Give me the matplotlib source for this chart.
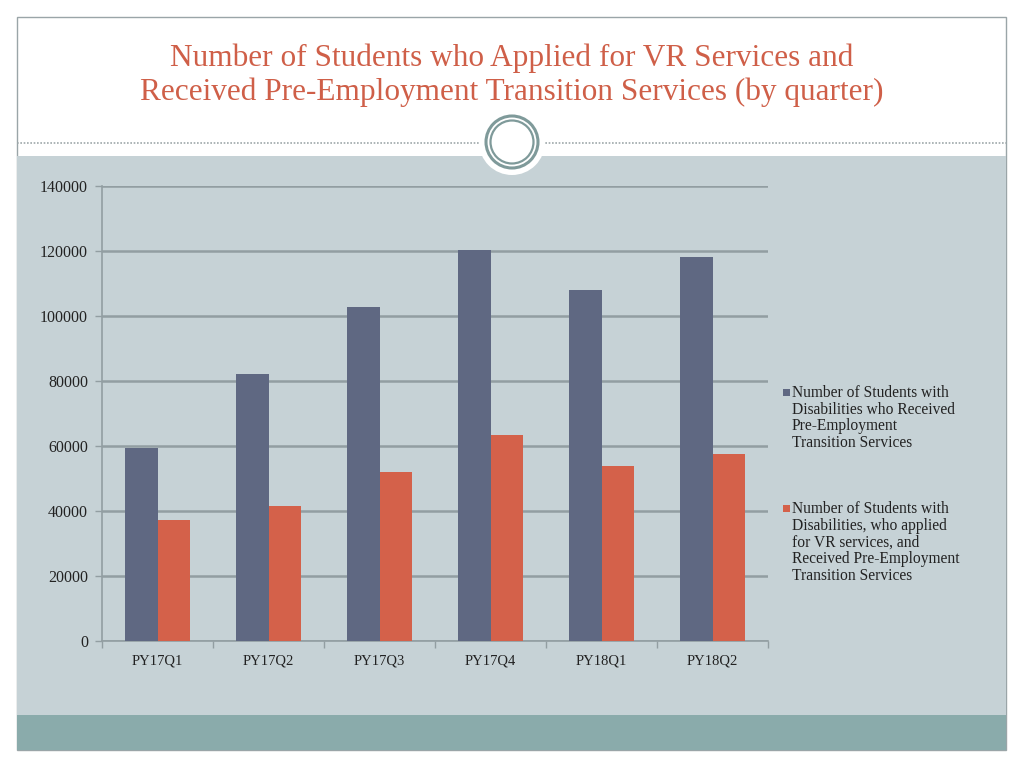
import matplotlib
matplotlib.use("Agg")
import matplotlib.pyplot as plt
from matplotlib.patches import Rectangle, Circle
import numpy as np

categories = ["PY17Q1", "PY17Q2", "PY17Q3", "PY17Q4", "PY18Q1", "PY18Q2"]
received = [59400, 82200, 102800, 120300, 108000, 118100]
applied = [37200, 41500, 52000, 63400, 53800, 57500]
series_names = [
    "Number of Students with\nDisabilities who Received\nPre-Employment\nTransition Services",
    "Number of Students with\nDisabilities, who applied\nfor VR services, and\nReceived Pre-Employment\nTransition Services",
]
yticks = [0, 20000, 40000, 60000, 80000, 100000, 120000, 140000]
title = "Number of Students who Applied for VR Services and\nReceived Pre-Employment Transition Services (by quarter)"

W, H = 1024, 768
fig = plt.figure(figsize=(W / 100, H / 100), dpi=100)
fig.patch.set_facecolor("white")

def fx(x):
    return x / W

def fy(y):
    return 1 - y / H

serif = ["Liberation Serif", "DejaVu Serif"]

# slide background parts
fig.patches.append(Rectangle((fx(17), fy(750)), fx(989), 733 / H, transform=fig.transFigure,
                             facecolor="white", edgecolor="#9aa5a8", lw=1.0, zorder=0))
fig.patches.append(Rectangle((fx(17), fy(715)), fx(989), (715 - 156) / H, transform=fig.transFigure,
                             facecolor="#c6d2d6", edgecolor="none", zorder=0))
fig.patches.append(Rectangle((fx(17), fy(750)), fx(989), 35 / H, transform=fig.transFigure,
                             facecolor="#8aabab", edgecolor="none", zorder=0))

# dashed separator line
fig.add_artist(plt.Line2D([fx(17), fx(484)], [fy(143), fy(143)], transform=fig.transFigure,
                          color="#9ea8aa", lw=1.2, ls=(0, (1, 1)), zorder=1))
fig.add_artist(plt.Line2D([fx(542), fx(1006)], [fy(143), fy(143)], transform=fig.transFigure,
                          color="#9ea8aa", lw=1.2, ls=(0, (1, 1)), zorder=1))

# circle ornament
oax = fig.add_axes([0, 0, 1, 1], zorder=1)
oax.set_xlim(0, W)
oax.set_ylim(H, 0)
oax.axis("off")
oax.add_patch(Circle((512, 142), 33, facecolor="white", edgecolor="none"))
oax.add_patch(Circle((512, 142), 26, facecolor="none", edgecolor="#7f9a9a", lw=2.2))
oax.add_patch(Circle((512, 142), 21.5, facecolor="white", edgecolor="#7f9a9a", lw=1.6))

# title
fig.text(0.5, fy(75), title, ha="center", va="center", fontsize=22.5, color="#cf5f48",
         family=serif, linespacing=1.2, zorder=3)

# chart axes
ax = fig.add_axes([fx(102), fy(641), fx(666), 455 / H], zorder=2)
ax.patch.set_alpha(0)
x = np.arange(len(categories))
bw = 0.29
ax.bar(x - bw / 2, received, bw, color="#5f6882", label=series_names[0], zorder=3)
ax.bar(x + bw / 2, applied, bw, color="#d4614a", label=series_names[1], zorder=3)

ax.set_xlim(-0.5, len(categories) - 0.5)
ax.set_ylim(0, 140000)
ax.set_yticks(yticks)
ax.set_yticklabels([str(v) for v in yticks], family=serif, fontsize=11.5, color="#222222")
ax.grid(axis="y", color="#929ea2", lw=1.8, zorder=1)
ax.set_axisbelow(True)
ax.set_xticks(x)
ax.set_xticklabels(categories, family=serif, fontsize=10.5, color="#222222")
ax.set_xticks(np.arange(-0.5, len(categories), 1), minor=True)
ax.tick_params(axis="x", which="major", length=0, pad=10)
ax.tick_params(axis="x", which="minor", length=5, color="#929ea2", width=1)
ax.tick_params(axis="y", length=5, color="#929ea2", width=1, pad=5)
for s in ["top", "right"]:
    ax.spines[s].set_visible(False)
ax.spines["left"].set_color("#929ea2")
ax.spines["bottom"].set_color("#929ea2")
ax.spines["left"].set_linewidth(1.2)
ax.spines["bottom"].set_linewidth(1.2)

# legend (manual placement to match layout)
leg_entries = [(392, "#5f6882", series_names[0]), (508, "#d4614a", series_names[1])]
for ytop, col, txt in leg_entries:
    oax.add_patch(Rectangle((783, ytop - 3.5), 7, 7, facecolor=col, edgecolor="none", zorder=4))
    oax.text(792, ytop - 7, txt, ha="left", va="top", fontsize=11.2, family=serif,
             color="#222222", linespacing=1.06, zorder=4)

fig.savefig("out.png", dpi=100, facecolor=fig.get_facecolor())
